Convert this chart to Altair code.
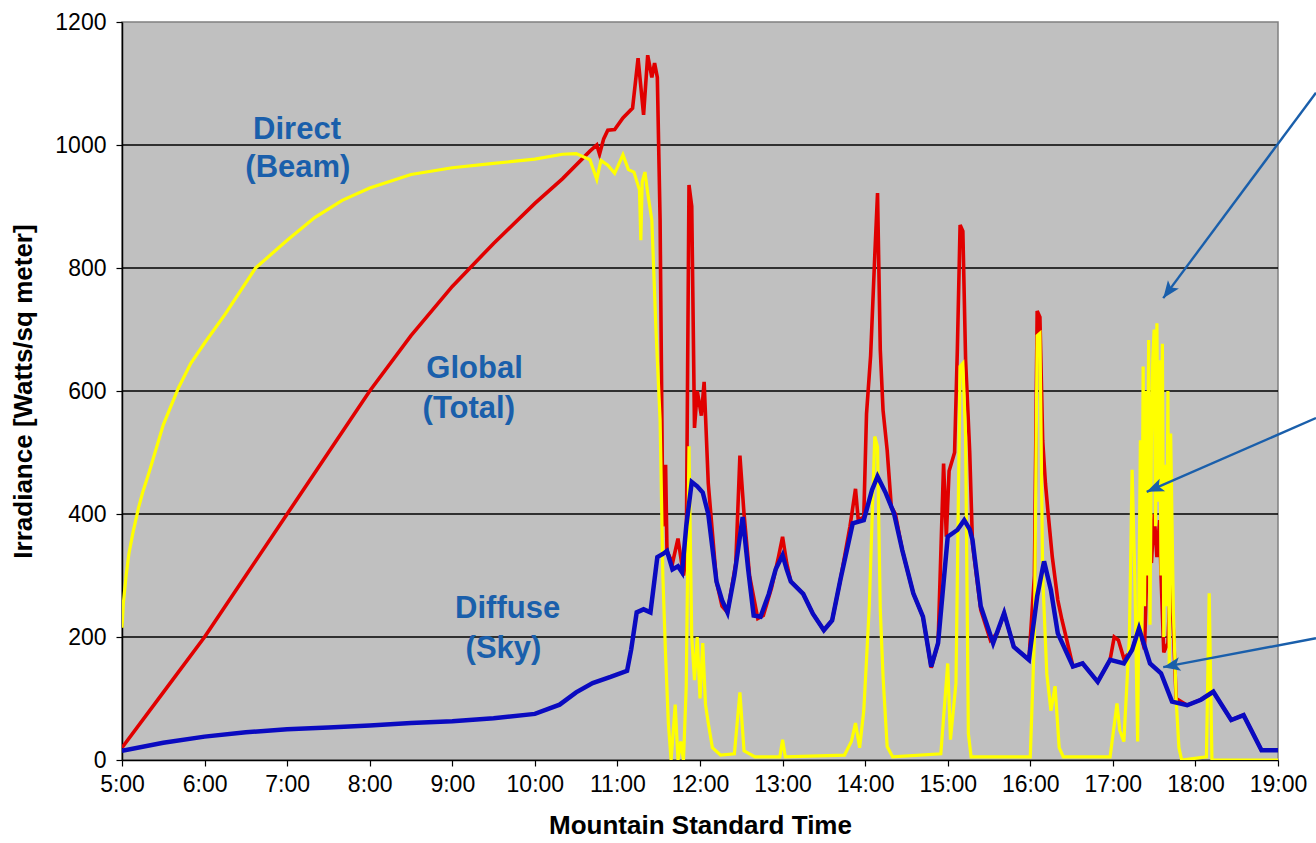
import math
import altair as alt
import pandas as pd

# ---------------- data ----------------
global_time = ["05:00","05:30","06:00","06:30","07:00","07:30","08:00","08:30","09:00","09:30",
    "10:00","10:20","10:40","10:45","10:47","10:50","10:53","10:58","11:04","11:11",
    "11:15","11:19","11:22","11:25","11:27","11:29","11:31","11:33","11:35","11:36",
    "11:40","11:44","11:48","11:50","11:52","11:54","11:56","11:58","12:01","12:03",
    "12:06","12:12","12:16","12:20","12:26","12:29","12:32","12:36","12:42","12:46",
    "12:52","12:57","13:00","13:03","13:06","13:15","13:22","13:30","13:36","13:42",
    "13:49","13:53","13:55","13:59","14:01","14:04","14:07","14:09","14:11","14:13",
    "14:16","14:19","14:22","14:27","14:35","14:42","14:48","14:53","14:57","14:59",
    "15:01","15:05","15:07","15:09","15:11","15:13","15:16","15:18","15:24","15:31",
    "15:36","15:41","15:48","15:59","16:03","16:05","16:07","16:09","16:11","16:13",
    "16:16","16:20","16:23","16:26","16:31","16:38","16:49","16:58","17:01","17:04",
    "17:08","17:14","17:19","17:23","17:26","17:28","17:30","17:32","17:34","17:35",
    "17:37","17:40","17:42","17:44","17:46","17:54","18:04","18:13","18:26","18:35",
    "18:48","19:00"]
global_value = [20,110,200,300,400,500,600,690,770,840,
    905,945,990,1000,985,1010,1024,1025,1044,1060,
    1141,1049,1146,1110,1133,1110,878,380,480,340,
    320,360,300,330,935,900,540,600,560,615,
    450,290,250,240,320,495,400,300,230,235,
    280,330,363,320,290,270,238,211,227,293,
    380,441,390,395,563,658,820,922,667,569,
    504,412,400,341,271,233,150,190,482,363,
    470,500,667,870,860,650,500,352,244,195,
    206,239,184,163,300,730,720,520,450,400,
    330,260,228,200,152,157,127,163,200,195,
    165,179,214,180,410,320,400,330,390,300,
    175,190,300,210,100,89,98,111,65,73,
    16,16]

direct_time = ["05:00","05:01","05:03","05:05","05:08","05:12","05:15","05:20","05:30","05:41",
    "05:50","06:00","06:15","06:37","07:00","07:20","07:40","08:00","08:30","09:00",
    "09:30","10:00","10:20","10:30","10:40","10:45","10:48","10:53","10:58","11:04",
    "11:08","11:12","11:16","11:17","11:18","11:20","11:22","11:25","11:28","11:31",
    "11:33","11:35","11:37","11:39","11:42","11:44","11:46","11:48","11:50","11:52",
    "11:54","11:56","11:58","12:00","12:02","12:04","12:06","12:09","12:15","12:25",
    "12:29","12:32","12:40","12:58","13:00","13:02","13:45","13:50","13:53","13:56",
    "13:59","14:01","14:03","14:07","14:09","14:11","14:13","14:16","14:20","14:55",
    "15:00","15:02","15:06","15:09","15:11","15:13","15:15","15:17","16:00","16:03",
    "16:05","16:07","16:09","16:12","16:15","16:18","16:21","16:24","16:58","17:03",
    "17:05","17:08","17:12","17:14","17:16","17:18","17:20","17:21","17:22","17:23",
    "17:24","17:25","17:26","17:27","17:28","17:29","17:30","17:31","17:32","17:33",
    "17:34","17:35","17:36","17:37","17:38","17:39","17:40","17:41","17:42","17:44",
    "17:46","17:48","17:50","18:08","18:10","18:12","18:30","19:00"]
direct_value = [215,255,300,335,370,410,435,470,545,605,
    645,678,725,800,845,882,910,930,952,963,
    970,977,985,986,976,944,975,967,954,984,
    960,956,927,845,940,956,922,878,700,553,
    300,170,60,0,90,0,30,0,120,510,
    200,130,200,100,190,90,60,20,8,10,
    110,15,5,5,33,5,8,30,60,20,
    80,163,250,526,509,244,136,22,5,10,
    157,33,125,640,645,526,43,5,5,200,
    690,694,300,140,80,120,20,5,5,92,
    48,30,200,472,293,30,520,200,640,250,
    600,300,683,220,520,650,700,380,710,420,
    650,300,677,200,480,250,600,150,531,240,
    98,20,0,5,271,0,0,0]

diffuse_time = ["05:00","05:30","06:00","06:30","07:00","07:30","08:00","08:30","09:00","09:30",
    "10:00","10:18","10:30","10:42","10:55","11:07","11:10","11:14","11:19","11:24",
    "11:29","11:33","11:36","11:40","11:44","11:47","11:50","11:54","11:58","12:02",
    "12:06","12:12","12:16","12:20","12:25","12:31","12:35","12:39","12:44","12:50",
    "12:55","13:00","13:03","13:06","13:15","13:22","13:30","13:36","13:42","13:51",
    "13:59","14:05","14:09","14:15","14:21","14:27","14:35","14:42","14:48","14:53",
    "15:00","15:07","15:12","15:16","15:18","15:24","15:33","15:41","15:48","15:59",
    "16:05","16:10","16:15","16:20","16:31","16:38","16:49","16:58","17:08","17:14",
    "17:19","17:27","17:35","17:43","17:54","18:04","18:13","18:26","18:35","18:48",
    "19:00"]
diffuse_value = [15,28,38,45,50,53,56,60,63,68,
    75,90,110,125,135,145,180,240,245,240,
    330,335,340,310,315,305,380,452,445,435,
    400,290,260,240,300,395,310,235,233,270,
    310,333,310,290,270,238,211,227,293,385,
    390,439,461,434,401,341,271,233,152,190,
    363,374,390,375,358,250,190,239,184,163,
    266,323,276,206,152,157,127,163,157,179,
    214,157,141,95,89,98,111,65,73,16,
    16]

hour_ticks = list(range(5, 20))
value_ticks = [0, 200, 400, 600, 800, 1000, 1200]
grid_values = [200, 400, 600, 800, 1000]

label_text = ["Direct", "(Beam)", "Global", "(Total)", "Diffuse", "(Sky)"]
label_hour = [7.12, 7.13, 9.27, 9.20, 9.67, 9.62]
label_value = [1025, 963, 635, 570, 245, 180]

# annotation arrows (start is at the picture's right edge)
arrow_start_hour = [19.46, 19.46, 19.46]
arrow_start_value = [1085, 556, 198]
arrow_end_hour = [17.61, 17.41, 17.61]
arrow_end_value = [751, 436, 151]

# ---------------- layout ----------------
W, H = 1156, 738
XMIN, XMAX = 5, 19
YMIN, YMAX = 0, 1200
FONT = "Liberation Sans"
ANNOT = "#1a5fab"


def to_hour(s):
    h, m = s.split(":")
    return int(h) + int(m) / 60.0


def series(times, values):
    return pd.DataFrame({"h": [to_hour(t) for t in times], "v": values})


x_scale = alt.Scale(domain=[XMIN, XMAX], nice=False, zero=False)
y_scale = alt.Scale(domain=[YMIN, YMAX], nice=False)

x_enc = alt.X(
    "h:Q", scale=x_scale,
    axis=alt.Axis(values=hour_ticks, labelExpr="datum.value + ':00'",
                  title="Mountain Standard Time", grid=False,
                  labelFlush=False, labelOverlap=False),
)
y_enc = alt.Y(
    "v:Q", scale=y_scale,
    axis=alt.Axis(values=value_ticks, format="d", title="Irradiance [Watts/sq meter]",
                  grid=False, labelFlush=False, labelOverlap=False),
)

grid = alt.Chart(pd.DataFrame({"v": grid_values})).mark_rule(
    color="#000000", strokeWidth=1.6
).encode(y=alt.Y("v:Q", scale=y_scale))

red = alt.Chart(series(global_time, global_value)).mark_line(
    color="#e00000", strokeWidth=3.6, clip=True
).encode(x=x_enc, y=y_enc)

yellow = alt.Chart(series(direct_time, direct_value)).mark_line(
    color="#ffff00", strokeWidth=3.2, clip=True
).encode(x=alt.X("h:Q", scale=x_scale), y=alt.Y("v:Q", scale=y_scale))

blue = alt.Chart(series(diffuse_time, diffuse_value)).mark_line(
    color="#0a0ac0", strokeWidth=4.5, clip=True
).encode(x=alt.X("h:Q", scale=x_scale), y=alt.Y("v:Q", scale=y_scale))

labels = alt.Chart(pd.DataFrame({"h": label_hour, "v": label_value, "t": label_text})).mark_text(
    font=FONT, fontSize=31, fontWeight="bold", color=ANNOT, align="center", baseline="middle"
).encode(x=alt.X("h:Q", scale=x_scale), y=alt.Y("v:Q", scale=y_scale), text="t:N")

# arrow geometry
def px(h, v):
    return ((h - XMIN) / (XMAX - XMIN) * W, H - (v - YMIN) / (YMAX - YMIN) * H)

angles = []
for hs, vs, he, ve in zip(arrow_start_hour, arrow_start_value, arrow_end_hour, arrow_end_value):
    x0, y0 = px(hs, vs)
    x1, y1 = px(he, ve)
    angles.append(math.degrees(math.atan2(x1 - x0, -(y1 - y0))) % 360)

arrow_df = pd.DataFrame({
    "h": arrow_start_hour, "v": arrow_start_value,
    "h2": arrow_end_hour, "v2": arrow_end_value, "a": angles,
})

arrow_lines = alt.Chart(arrow_df).mark_rule(
    color=ANNOT, strokeWidth=2.4, clip=False
).encode(
    x=alt.X("h:Q", scale=x_scale), y=alt.Y("v:Q", scale=y_scale),
    x2="h2:Q", y2="v2:Q",
)

arrow_heads = alt.Chart(arrow_df).mark_point(
    shape="M0,0 L-0.6,1.5 L0,1.15 L0.6,1.5 Z", filled=True, color=ANNOT,
    opacity=1, size=520, clip=False, strokeWidth=0,
).encode(
    x=alt.X("h2:Q", scale=x_scale), y=alt.Y("v2:Q", scale=y_scale),
    angle=alt.Angle("a:Q", scale=None),
)

chart = alt.layer(grid, red, yellow, blue, labels, arrow_lines, arrow_heads).properties(
    width=W, height=H,
    padding={"left": 122, "top": 22, "right": 38, "bottom": 83},
    autosize=alt.AutoSizeParams(type="none"),
    background="white",
).configure_view(
    fill="#c0c0c0", stroke="#808080", strokeWidth=1.5,
).configure_axis(
    labelFont=FONT, titleFont=FONT, labelColor="#000000", titleColor="#000000",
    domainColor="#000000", tickColor="#000000", domainWidth=1.5, tickWidth=1.2,
    tickSize=6, labelFontSize=23, titleFontSize=26, titleFontWeight="bold",
).configure_axisX(
    labelPadding=7, titlePadding=16,
).configure_axisY(
    labelPadding=10, titlePadding=18,
)

chart.save("out.html", embed_options={"renderer": "svg", "actions": False})
